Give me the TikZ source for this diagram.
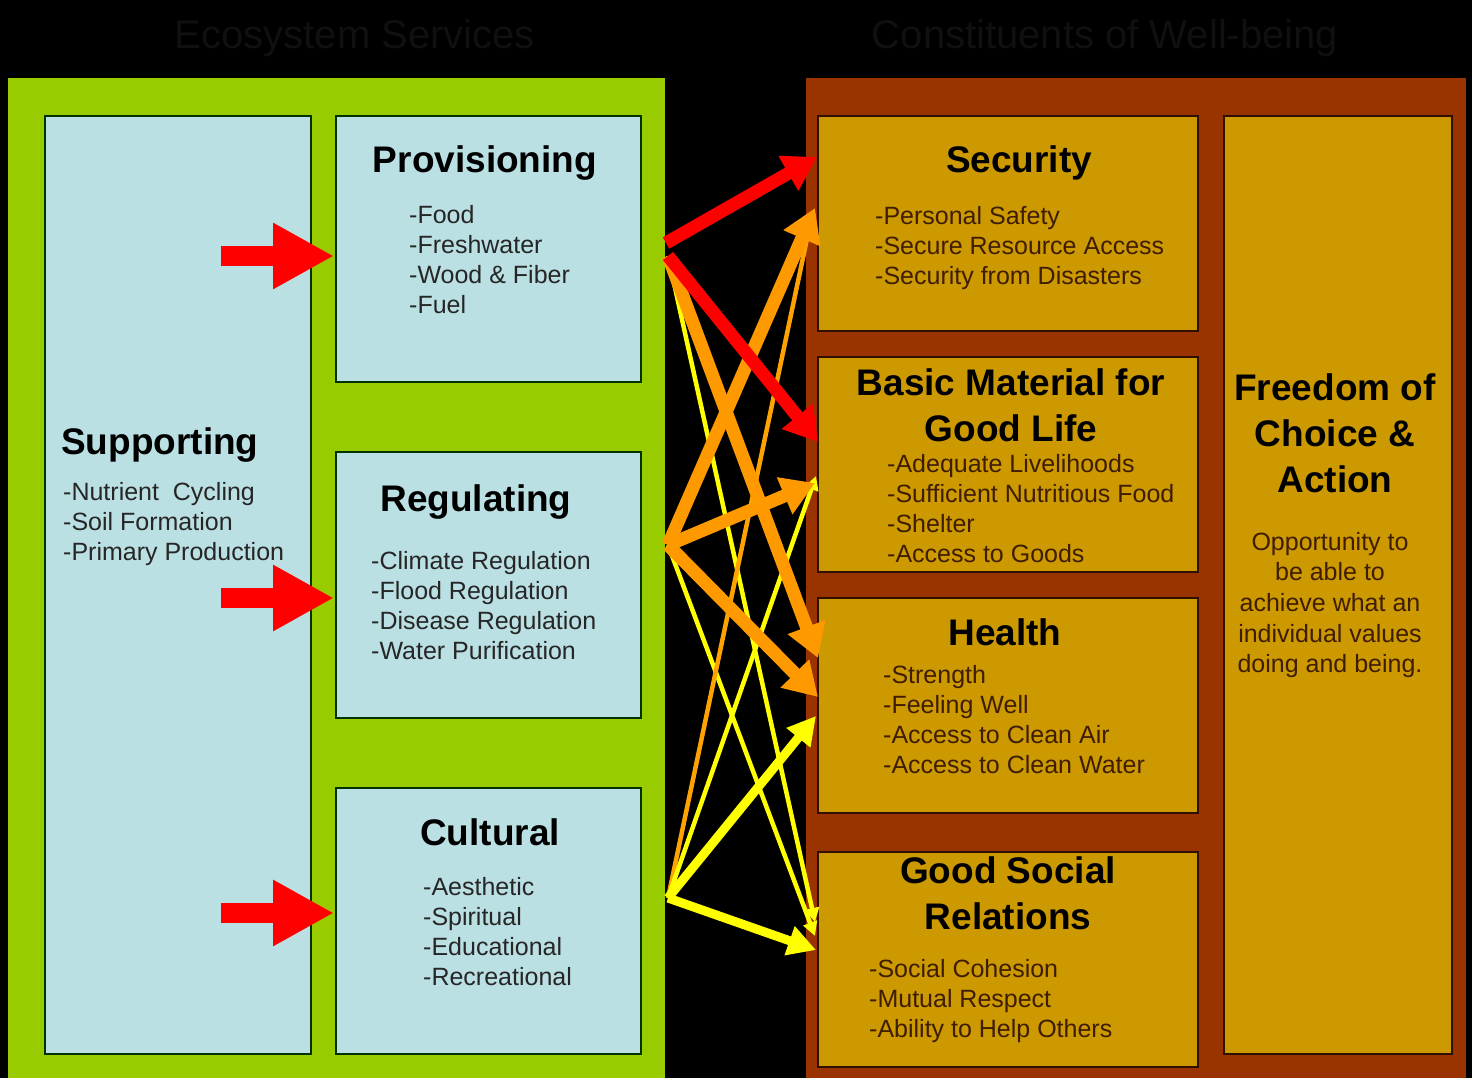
\documentclass[tikz,border=0pt]{standalone}
\usepackage{fontspec}
\setmainfont{Liberation Sans}
\usetikzlibrary{arrows.meta,calc}

\definecolor{ecogreen}{HTML}{99CC00}
\definecolor{wellbrown}{HTML}{993300}
\definecolor{svcblue}{HTML}{BBE0E3}
\definecolor{wellgold}{HTML}{CC9900}
\definecolor{linkred}{HTML}{FF0000}
\definecolor{linkorange}{HTML}{FF9900}
\definecolor{linkyellow}{HTML}{FFFF00}
\definecolor{bodybrown}{HTML}{3F1D00}
\definecolor{headgray}{HTML}{101010}

\tikzset{
  svcbox/.style={draw=black!80!green, line width=1.2pt, fill=svcblue, anchor=north west, inner sep=0pt, outer sep=0pt},
  wellbox/.style={draw=black!70!wellbrown, line width=1.2pt, fill=wellgold, anchor=north west, inner sep=0pt, outer sep=0pt},
  boxtitle/.style={font=\fontsize{37}{46}\selectfont\bfseries, align=center, inner sep=0pt},
  svclist/.style={font=\fontsize{25}{30}\selectfont, align=left, anchor=west, inner sep=0pt, text=black!85},
  welllist/.style={svclist, text=bodybrown},
  headtext/.style={font=\fontsize{40}{48}\selectfont, text=headgray, inner sep=0pt},
  bigarrow/.style={line width=20pt, draw=linkred, -{Triangle[width=62pt,length=61pt]}},
  thicklink/.style={line width=13pt, -{Triangle[width=38pt,length=33pt]}},
  midlink/.style={line width=9pt, -{Triangle[width=29pt,length=28pt]}},
  thinlink/.style={line width=4.5pt, -{Triangle[width=14pt,length=14pt]}},
}

\begin{document}
\begin{tikzpicture}[x=1pt, y=-1pt]
  \useasboundingbox (0,0) rectangle (1472,1078);
  \fill[black] (0,0) rectangle (1472,1078);

  % headings (dark on black)
  \node[headtext] (ecohead) at (355,38) {Ecosystem Services};
  \node[headtext] (wellhead) at (1105,38) {Constituents of Well-being};

  % panels
  \node[fill=ecogreen, anchor=north west, inner sep=0pt, outer sep=0pt, minimum width=657pt, minimum height=1000pt] (eco) at (8,78) {};
  \node[fill=wellbrown, anchor=north west, inner sep=0pt, outer sep=0pt, minimum width=660pt, minimum height=1000pt] (well) at (806,78) {};

  % ecosystem services
  \node[svcbox, minimum width=266pt, minimum height=938pt] (sup) at (45,116) {};
  \node[svcbox, minimum width=305pt, minimum height=266pt] (prov) at (336,116) {};
  \node[svcbox, minimum width=305pt, minimum height=266pt] (reg) at (336,452) {};
  \node[svcbox, minimum width=305pt, minimum height=266pt] (cult) at (336,788) {};

  % constituents of well-being
  \node[wellbox, minimum width=380pt, minimum height=215pt] (sec) at (818,116) {};
  \node[wellbox, minimum width=380pt, minimum height=215pt] (basic) at (818,357) {};
  \node[wellbox, minimum width=380pt, minimum height=215pt] (health) at (818,598) {};
  \node[wellbox, minimum width=380pt, minimum height=215pt] (social) at (818,852) {};
  \node[wellbox, minimum width=228pt, minimum height=938pt] (free) at (1224,116) {};

  % supporting -> services
  \draw[bigarrow] ($(prov.west)+(-115,7)$) -- ($(prov.west)+(-2,7)$);
  \draw[bigarrow] ($(reg.west)+(-115,13)$) -- ($(reg.west)+(-2,13)$);
  \draw[bigarrow] ($(cult.west)+(-115,-8)$) -- ($(cult.west)+(-2,-8)$);

  % texts, left
  \node[boxtitle, anchor=base west] (suptitle) at (61,454) {Supporting};
  \node[svclist] (suplist) at (63,524) {-Nutrient\ \ Cycling\\-Soil Formation\\-Primary Production};
  \node[boxtitle, anchor=base] (provtitle) at (485,173) {Provisioning};
  \node[svclist] (provlist) at (409,260) {-Food\\-Freshwater\\-Wood \& Fiber\\-Fuel};
  \node[boxtitle, anchor=base] (regtitle) at (476,511) {Regulating};
  \node[svclist] (reglist) at (371,606) {-Climate Regulation\\-Flood Regulation\\-Disease Regulation\\-Water Purification};
  \node[boxtitle, anchor=base] (culttitle) at (490,845) {Cultural};
  \node[svclist] (cultlist) at (423,932) {-Aesthetic\\-Spiritual\\-Educational\\-Recreational};

  % texts, right
  \node[boxtitle, anchor=base] (sectitle) at (1019,173) {Security};
  \node[welllist] (seclist) at (875,248) {-Personal Safety\\-Secure Resource Access\\-Security from Disasters};
  \node[boxtitle] (basictitle) at (1011,405) {Basic Material for\\Good Life};
  \node[welllist] (basiclist) at (887,509) {-Adequate Livelihoods\\-Sufficient Nutritious Food\\-Shelter\\-Access to Goods};
  \node[boxtitle, anchor=base] (healthtitle) at (1005,645) {Health};
  \node[welllist] (healthlist) at (883,720) {-Strength\\-Feeling Well\\-Access to Clean Air\\-Access to Clean Water};
  \node[boxtitle] (socialtitle) at (1008,893) {Good Social\\Relations};
  \node[welllist] (sociallist) at (869,1001) {-Social Cohesion\\-Mutual Respect\\-Ability to Help Others};
  \node[boxtitle] (freetitle) at (1335,433) {Freedom of\\Choice \&\\Action};
  \node[font=\fontsize{25}{30.7}\selectfont, align=center, inner sep=0pt, text=bodybrown] (freetext) at (1330,605) {Opportunity to\\be able to\\achieve what an\\individual values\\doing and being.};

  % link sources on the green panel edge
  \coordinate (provout) at (668,256);
  \coordinate (provtop) at (666,243);
  \coordinate (regout) at (668,545);
  \coordinate (cultout) at (668,898);

  % thin links
  \draw[thinlink, linkyellow] (provout) -- ($(social.north west)+(-3,70)$);
  \draw[thinlink, linkyellow] (regout) -- ($(social.north west)+(-3,84)$);
  \draw[thinlink, linkorange!90!yellow] (cultout) -- ($(sec.north west)+(-6,99)$);
  \draw[thinlink, linkyellow] (cultout) -- ($(basic.north west)+(-2,119)$);

  % medium links
  \draw[midlink, linkyellow] (cultout) -- ($(health.north west)+(-2,118)$);
  \draw[midlink, linkyellow] (cultout) -- ($(social.north west)+(-2,98)$);

  % thick links
  \draw[thicklink, linkorange] (provout) -- ($(health.north west)+(0,60)$);
  \draw[thicklink, linkorange] (regout) -- ($(sec.north west)+(-3,92)$);
  \draw[thicklink, linkorange] (regout) -- ($(basic.north west)+(-3,126)$);
  \draw[thicklink, linkorange] (regout) -- ($(health.north west)+(0,99)$);
  \draw[thicklink, linkred] (provtop) -- ($(sec.north west)+(-1,41)$);
  \draw[thicklink, linkred] (provout) -- ($(basic.north west)+(0,85)$);
\end{tikzpicture}
\end{document}
